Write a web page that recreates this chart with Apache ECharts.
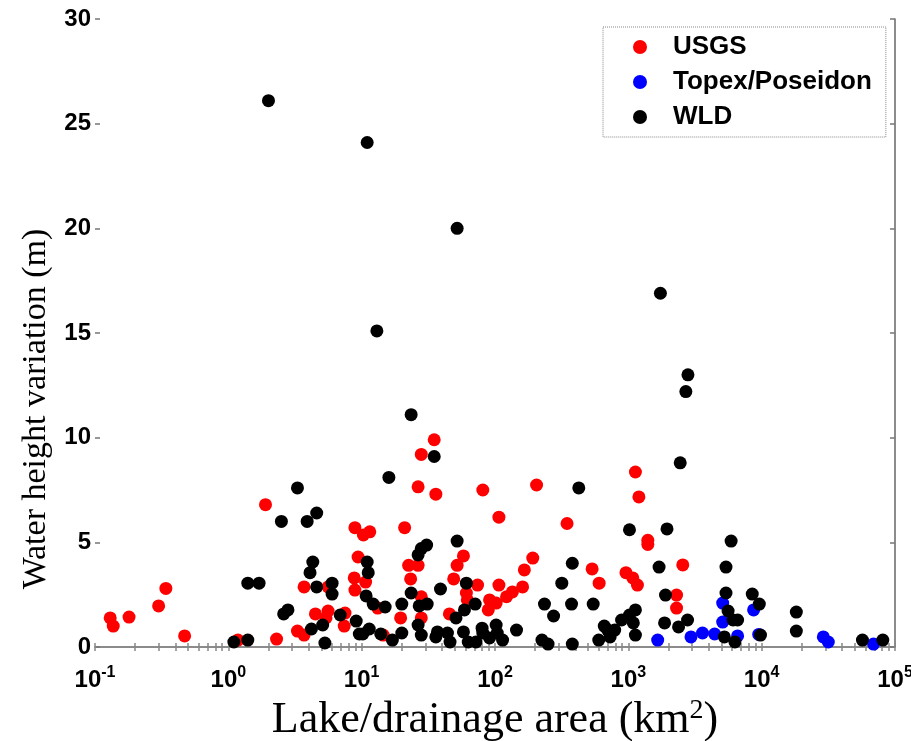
<!DOCTYPE html>
<html>
<head>
<meta charset="utf-8">
<script src="https://cdn.jsdelivr.net/npm/echarts@6/dist/echarts.min.js"></script>
<style>
html,body{margin:0;padding:0;background:#fff;}
#chart{width:911px;height:741px;}
</style>
</head>
<body>
<div id="chart"></div>
<script>
// [area km2, height variation m]
var usgs = [
    [0.13,1.39],[0.137,1.0],[0.18,1.43],[0.30,1.96],[0.34,2.8],[0.47,0.53],[1.18,0.33],[1.9,6.8],
    [2.3,0.38],[3.3,0.76],[3.7,0.57],[3.7,2.87],[4.5,1.58],[5.4,1.39],[5.6,1.72],[5.6,2.87],
    [7.4,1.0],[7.5,1.62],[8.9,5.7],[10.3,5.35],[11.5,5.5],[9.4,4.3],[8.8,3.3],[10.7,3.1],
    [8.9,2.72],[13.2,1.86],[14.5,0.57],[21,5.7],[22.5,3.9],[26.5,3.9],[23.3,3.25],[28,2.4],
    [19.6,1.39],[28,1.39],[35,9.9],[28,9.2],[26.5,7.65],[36,7.3],[49,3.25],[52,3.9],
    [58,4.35],[61,2.58],[62,2.25],[74,2.96],[45.5,1.58],[81,7.5],[107,6.2],[107,2.96],
    [91,2.25],[89,1.77],[102,2.1],[122,2.4],[135,2.63],[161,2.87],[166,3.68],[192,4.25],
    [205,7.74],[347,5.9],[535,3.73],[604,3.05],[960,3.55],[1080,3.3],[1170,2.96],[1130,8.36],
    [1200,7.17],[1400,5.1],[1400,4.9],[2560,3.92],[2300,2.48],[2300,1.86]
];
var topex = [
    [1660,0.33],[2950,0.48],[3600,0.67],[4440,0.62],[5100,2.1],[5100,1.19],[6600,0.53],
    [8700,1.77],[9500,0.6],[29000,0.48],[31600,0.24],[69000,0.14]
];
var wld = [
    [2.0,26.1],[11,24.1],[52,20.0],[13,15.1],[1740,16.9],[2800,13.0],[2700,12.2],[23.5,11.1],
    [35,9.1],[2450,8.8],[16,8.1],[3.3,7.6],[425,7.6],
    [2.5,6.0],[3.9,6.0],[4.6,6.4],[4.3,4.06],[4.1,3.55],[1.4,3.05],[1.7,3.05],[4.6,2.87],
    [6.0,3.05],[6.0,2.53],[2.6,1.58],[2.8,1.77],[6.9,1.53],[4.2,0.86],[5.1,1.05],[1.1,0.24],
    [1.4,0.33],[5.3,0.19],[9.1,1.24],[9.6,0.62],
    [11,4.06],[11.2,3.55],[10.8,2.44],[12.2,2.05],[15,1.91],[10.2,0.62],[11.4,0.86],[13.9,0.62],
    [17,0.33],[20,2.05],[23.5,2.58],[20,0.67],[26.5,4.4],[28,4.7],[30.7,4.87],[27,1.96],
    [31,2.05],[26.5,1.05],[28,0.57],[39,2.77],[52,5.06],[61,3.05],[59,1.77],[71,2.05],
    [51,1.39],[37,0.72],[36,0.48],[44,0.67],[46,0.24],[58,0.72],[63,0.24],[80,0.9],
    [81,0.67],[102,1.05],[104,0.67],[114,0.33],[145,0.81],[91,0.43],[72,0.24],[225,0.33],
    [250,0.14],[380,0.14],[235,2.05],[275,1.48],[317,3.05],[380,4.0],[375,2.05],[545,2.05],
    [600,0.33],[700,0.81],[730,0.48],[890,1.29],[1020,1.53],[1020,5.6],[660,1.0],[790,0.81],
    [1130,1.77],[1090,1.15],[1130,0.57],[1700,3.82],[1900,2.48],[1870,1.15],[2380,0.96],[2780,1.29],
    [1950,5.64],[5900,5.06],[5400,3.82],[5400,2.58],[8500,2.53],[9600,2.05],[5600,1.72],[6100,1.29],
    [6600,1.29],[18200,1.67],[18200,0.76],[5250,0.48],[6300,0.24],[9800,0.57],[57000,0.33],[81000,0.33]
];
var seriesNames = ['USGS','Topex/Poseidon','WLD'];
var seriesColors = ['#ff0000','#0000ff','#000000'];

// log minor tick positions 0.1 .. 1e5
var logTicks = [];
for (var d = -1; d < 5; d++) {
    for (var m = 1; m < 10; m++) {
        logTicks.push(+(m * Math.pow(10, d)).toPrecision(3));
    }
}
logTicks.push(100000);
var decades = [0.1,1,10,100,1000,10000,100000];

var tickFont = 'Liberation Sans';
var chart = echarts.init(document.getElementById('chart'));
chart.setOption({
    animation:false,
    backgroundColor:'#fff',
    grid:{left:95,right:16,top:19,bottom:94,containLabel:false,outerBoundsMode:'none'},
    legend:{
        orient:'vertical',
        left:603,
        top:27,
        padding:[7,14,7,30],
        itemGap:9,
        itemWidth:14,
        itemHeight:14,
        icon:'circle',
        borderColor:'#888',
        borderWidth:1,
        borderType:'dotted',
        textStyle:{
            fontFamily:tickFont,
            fontWeight:'bold',
            fontSize:26,
            lineHeight:26,
            color:'#000',
            padding:[0,0,0,21]
        },
        data:seriesNames
    },
    xAxis:[
        {
            type:'log',
            logBase:10,
            min:0.1,
            max:100000,
            position:'bottom',
            axisLine:{show:false},
            axisTick:{
                show:true,
                inside:true,
                length:4,
                customValues:logTicks,
                lineStyle:{color:'#888',width:1.5}
            },
            splitLine:{show:false},
            axisLabel:{
                customValues:decades,
                margin:18,
                formatter:function(value){
                    var e = Math.round(Math.log(value)/Math.LN10);
                    return '{b|10}{s|' + e + '}';
                },
                rich:{
                    b:{fontFamily:tickFont,fontWeight:'bold',fontSize:24,color:'#000'},
                    s:{fontFamily:tickFont,fontWeight:'bold',fontSize:16,color:'#000',padding:[0,0,14,0]}
                }
            },
            name:'Lake/drainage area (km{s|2})',
            nameLocation:'middle',
            nameGap:50,
            nameTextStyle:{
                fontFamily:'Liberation Serif',
                fontSize:44,
                color:'#000',
                rich:{
                    s:{fontFamily:'Liberation Serif',fontSize:28,color:'#000',padding:[0,0,18,0]}
                }
            }
        },
        {
            type:'log',
            logBase:10,
            min:0.1,
            max:100000,
            position:'top',
            axisLine:{show:true,lineStyle:{color:'#666',width:1.5}},
            axisTick:{
                show:true,
                inside:true,
                length:4,
                customValues:logTicks,
                lineStyle:{color:'#888',width:1.5}
            },
            axisLabel:{show:false},
            splitLine:{show:false}
        }
    ],
    yAxis:[
        {
            type:'value',
            min:0,
            max:30,
            interval:5,
            position:'left',
            axisLine:{show:false},
            axisTick:{show:true,inside:true,length:5,lineStyle:{color:'#777',width:1.5}},
            splitLine:{show:false},
            axisLabel:{
                margin:4,
                fontFamily:tickFont,
                fontWeight:'bold',
                fontSize:24,
                color:'#000'
            },
            name:'Water height variation (m)',
            nameLocation:'middle',
            nameGap:42,
            nameTextStyle:{
                fontFamily:'Liberation Serif',
                fontSize:34,
                color:'#000',
                padding:[0,152,0,0]
            }
        },
        {
            type:'value',
            min:0,
            max:30,
            interval:5,
            position:'right',
            axisLine:{show:true,lineStyle:{color:'#666',width:1.5}},
            axisTick:{show:true,inside:true,length:5,lineStyle:{color:'#777',width:1.5}},
            axisLabel:{show:false},
            splitLine:{show:false}
        }
    ],
    series:[
        {name:seriesNames[0],type:'scatter',symbol:'circle',symbolSize:13,data:usgs,itemStyle:{color:seriesColors[0],opacity:1}},
        {name:seriesNames[1],type:'scatter',symbol:'circle',symbolSize:13,data:topex,itemStyle:{color:seriesColors[1],opacity:1}},
        {name:seriesNames[2],type:'scatter',symbol:'circle',symbolSize:13,data:wld,itemStyle:{color:seriesColors[2],opacity:1}}
    ]
});
</script>
</body>
</html>
